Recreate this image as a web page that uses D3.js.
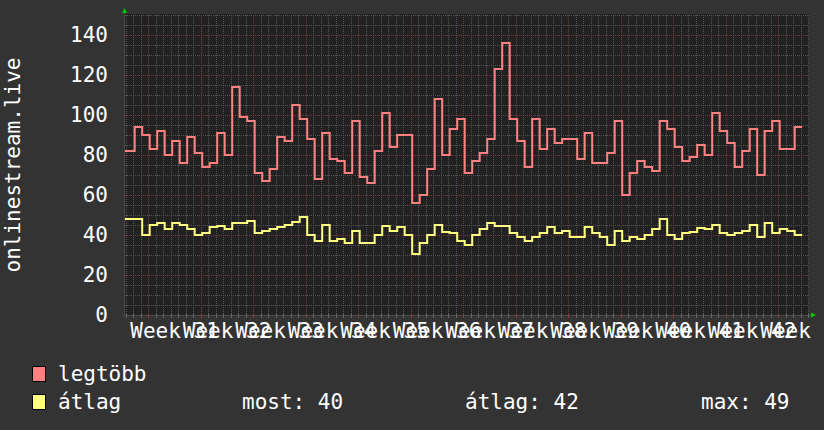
<!DOCTYPE html>
<html><head><meta charset="utf-8">
<script src="https://cdn.jsdelivr.net/npm/d3@7"></script>
<style>
html,body{margin:0;padding:0;background:#333333;}
svg{display:block;}
text{font-family:"DejaVu Sans Mono",monospace;fill:#ffffff;}
</style></head>
<body>
<svg id="chart" width="824" height="430"></svg>
<script>
// ---- data ----
const weekLabels = ["Week 31","Week 32","Week 33","Week 34","Week 35","Week 36","Week 37","Week 38","Week 39","Week 40","Week 41","Week 42","Week 43"];
const maxValues = [82,82,94,90,83,92,80,87,76,89,81,74,76,91,80,114,99,97,71,67,73,89,87,105,98,88,68,91,78,77,71,97,69,66,82,101,84,90,90,56,60,73,108,80,93,98,71,77,81,88,123,136,98,87,74,98,83,93,86,88,88,78,91,76,76,81,97,60,71,77,74,72,97,93,84,77,79,85,80,101,92,86,74,82,93,70,92,97,83,83,94];
const avgValues = [48,48,48,40,45,46,43,46,45,43,40,41,44,44.5,43,46,46,47,41,42,43,44,45,46.5,49,40,37,45,37,38,36,42,36,36,40,44.5,42,44,40,30.5,36,40,45,41.5,41,37,35,40,43,46,44.5,44.5,41,39,37,39,41,44,41,42,39,39,44,41,39,35,42,37,39,38,40,43,48,40,38,41,41.5,43.5,43,45,41,40,41,42,45,39,46,41,43,42,40];
const yTicks = [0,20,40,60,80,100,120,140];
const seriesNames = ["legtöbb","átlag"];
const seriesColors = ["#ff8080","#ffff80"];
const legendStats = [["most:", "40"],["átlag:", "42"],["max:", "49"]];

// ---- layout ----
const L = 125, R = 809, T = 15, B = 315;
const totalDays = (R - L) / 7.5;
const dataStart = 0.293 - 1;   // first step start (days)
const weekStart = 3.107;       // first week boundary (days)

const svg = d3.select("#chart");
svg.append("rect").attr("width",824).attr("height",430).attr("fill","#333333");
const x = d3.scaleLinear().domain([0,totalDays]).range([L,R]);
const y = d3.scaleLinear().domain([0,150]).range([B,T]);

svg.append("rect").attr("x",L).attr("y",T-1).attr("width",R-L).attr("height",B-T+1).attr("fill","#212121");

// grid
const minorY = d3.range(5,151,5).filter(v => v % 20 !== 0);
const majorY = yTicks.filter(v => v > 0);
const dayLines = d3.range(-3, 90).map(j => weekStart + j).filter(t => t > 0 && t < totalDays);
const weekLines = d3.range(0, 13).map(j => weekStart + 7*j).filter(t => t < totalDays);
const minorV = dayLines.filter(t => !weekLines.some(w => Math.abs(w - t) < 1e-6));
const g = svg.append("g");
g.selectAll(".mh").data(minorY).enter().append("line")
  .attr("x1",L).attr("x2",R).attr("y1",d=>Math.round(y(d))+0.5).attr("y2",d=>Math.round(y(d))+0.5)
  .attr("stroke","#555555").attr("stroke-dasharray","1,1");
g.selectAll(".mv").data(minorV).enter().append("line")
  .attr("x1",d=>Math.round(x(d))+0.5).attr("x2",d=>Math.round(x(d))+0.5).attr("y1",T).attr("y2",B)
  .attr("stroke","#555555").attr("stroke-dasharray","1,1");
g.selectAll(".Mh").data(majorY).enter().append("line")
  .attr("x1",L).attr("x2",R).attr("y1",d=>Math.round(y(d))+0.5).attr("y2",d=>Math.round(y(d))+0.5)
  .attr("stroke","#7a3a3a").attr("stroke-dasharray","1,1");
g.selectAll(".Mv").data(weekLines).enter().append("line")
  .attr("x1",d=>Math.round(x(d))+0.5).attr("x2",d=>Math.round(x(d))+0.5).attr("y1",T).attr("y2",B)
  .attr("stroke","#7a3a3a").attr("stroke-dasharray","1,1");

// axes lines + ticks
svg.append("line").attr("x1",L-0.5).attr("x2",L-0.5).attr("y1",T-3).attr("y2",B+2).attr("stroke","#4a4a4a");
svg.append("line").attr("x1",L-2).attr("x2",R+3).attr("y1",B+0.5).attr("y2",B+0.5).attr("stroke","#4a4a4a");
svg.selectAll(".tk").data(minorV).enter().append("line")
  .attr("x1",d=>Math.round(x(d))+0.5).attr("x2",d=>Math.round(x(d))+0.5).attr("y1",B-2).attr("y2",B+3)
  .attr("stroke","#666666");
svg.selectAll(".Tk").data(weekLines).enter().append("line")
  .attr("x1",d=>Math.round(x(d))+0.5).attr("x2",d=>Math.round(x(d))+0.5).attr("y1",B-2).attr("y2",B+3)
  .attr("stroke","#8a3a3a");

// arrows
svg.append("path").attr("d",`M${L-3},${T-2} L${L+2},${T-2} L${L-0.5},${T-7} Z`).attr("fill","#00cc00");
svg.append("path").attr("d",`M${R+2},${B-2.5} L${R+2},${B+2.5} L${R+7},${B} Z`).attr("fill","#00cc00");

// series
const clip = svg.append("clipPath").attr("id","pc").append("rect").attr("x",L).attr("y",T-2).attr("width",R-L).attr("height",B-T+4);
function stepPts(vals){
  const pts = vals.map((v,i)=>[dataStart+i, v]);
  pts.push([dataStart+vals.length, vals[vals.length-1]]);
  return pts;
}
const line = d3.line().x(d=>x(d[0])).y(d=>y(d[1])).curve(d3.curveStepAfter);
[maxValues, avgValues].forEach((vals,i)=>{
  svg.append("path").attr("d",line(stepPts(vals))).attr("fill","none")
    .attr("stroke",seriesColors[i]).attr("stroke-width",2).attr("clip-path","url(#pc)");
});

// y labels
svg.selectAll(".yl").data(yTicks).enter().append("text")
  .attr("x",108).attr("y",d=>y(d)+7).attr("text-anchor","end").attr("font-size",21).text(d=>d);
// x labels
svg.selectAll(".xl").data(weekLabels).enter().append("text")
  .attr("x",(d,i)=>x(weekStart + 3.5 + 7*i)).attr("y",338).attr("text-anchor","middle").attr("font-size",21).text(d=>d);
// y title
svg.append("text").attr("transform","translate(20,165) rotate(-90)").attr("text-anchor","middle")
  .attr("font-size",21).text("onlinestream.live");

// legend
seriesNames.forEach((n,i)=>{
  const yy = 366 + i*28;
  svg.append("rect").attr("x",32.5).attr("y",yy+0.5).attr("width",13).attr("height",15)
    .attr("fill",seriesColors[i]).attr("stroke","#000").attr("stroke-width",1);
  svg.append("text").attr("x",58).attr("y",yy+15).attr("font-size",21).text(n);
});
const statX = [242, 465, 701];
legendStats.forEach((s,i)=>{
  svg.append("text").attr("x",statX[i]).attr("y",366+28+15).attr("font-size",21).attr("xml:space","preserve").text(s[0]+" "+s[1]);
});
</script>
</body></html>
